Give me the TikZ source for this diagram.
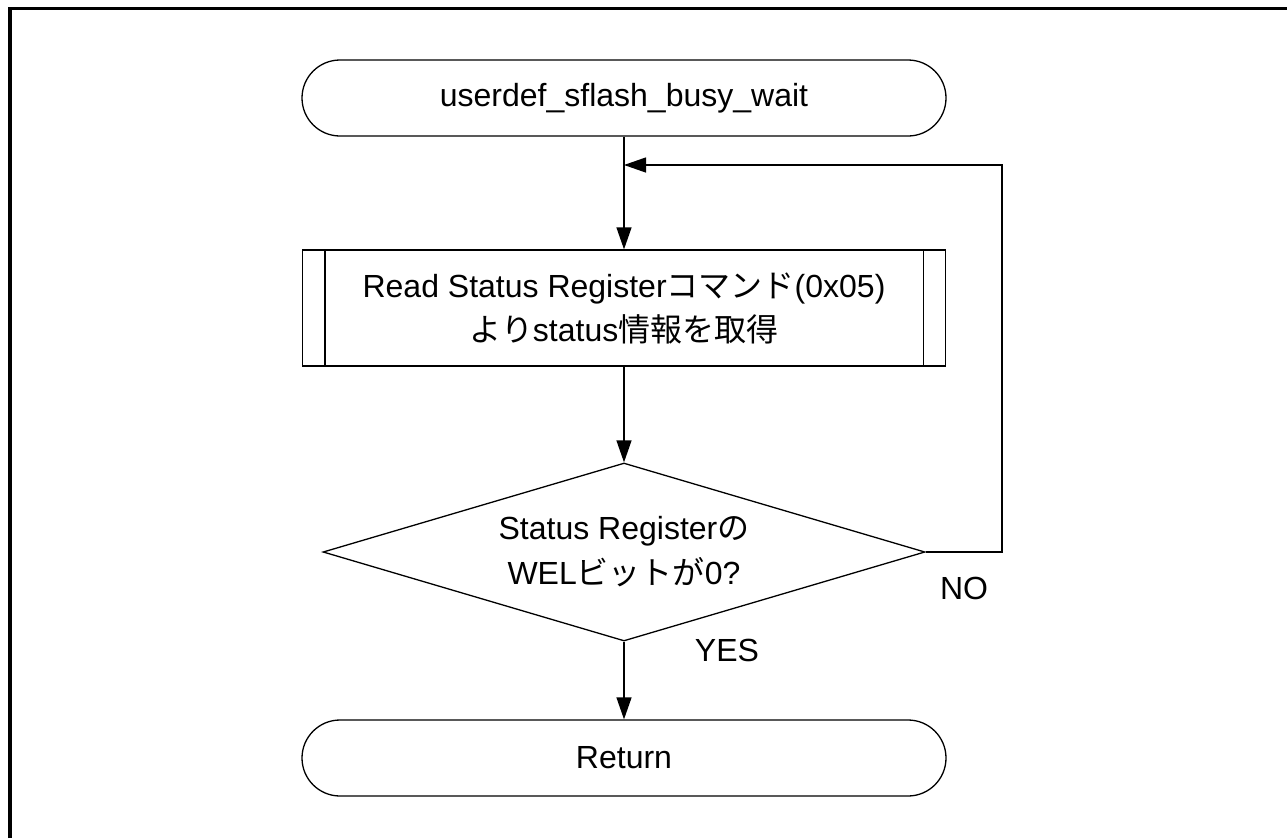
\documentclass[tikz,border=0pt]{standalone}
\usepackage{fontspec}
\setmainfont{Liberation Sans}
\newfontfamily\jp{Noto Sans CJK JP}
\usetikzlibrary{shapes.geometric,arrows.meta,positioning}
\tikzset{
  base/.style={draw=black,line width=1.3pt,inner sep=0pt,align=center,
    font=\fontsize{32}{44}\selectfont},
  term/.style={base,rectangle,rounded corners=38pt,minimum width=644pt,minimum height=76pt},
  proc/.style={base,rectangle,minimum width=643pt,minimum height=116pt},
  dec/.style={base,diamond,aspect=3.37,minimum width=602pt,minimum height=178pt},
  arr/.style={line width=1.3pt,-{Triangle[length=22pt,width=15pt]}},
  lbl/.style={font=\fontsize{32}{36}\selectfont,inner sep=0pt},
  frame/.style={line width=3.5pt}
}
\begin{document}
\begin{tikzpicture}[x=1pt,y=-1pt]
\useasboundingbox (0,0) rectangle (1287,838);
\draw[frame] (10,838) -- (10,8.5) -- (1287,8.5);
\node[term] (start) at (624,98) {userdef\_sflash\_busy\_wait};
\node[proc] (read) at (624,308) {Read Status Register{\jp コマンド}(0x05)\\{\jp より}status{\jp 情報を取得}};
\draw[line width=1.3pt] ([xshift=23pt]read.north west) -- ([xshift=23pt]read.south west);
\draw[line width=1.3pt] ([xshift=-23pt]read.north east) -- ([xshift=-23pt]read.south east);
\node[dec] (check) at (624,552) {};
\node[lbl,align=center,font=\fontsize{32}{45}\selectfont] (checktxt) at (624,552) {Status Register{\jp の}\\WEL{\jp ビットが}0?};
\node[term] (ret) at (624,758) {Return};
\coordinate (join) at (624,165);
\coordinate (loopR) at (1002,552);
\node[lbl] (no) at (964,588) {NO};
\node[lbl] (yes) at (727,650) {YES};
\draw[arr] (start.south) -- (read.north);
\draw[arr] (read.south) -- (check.north);
\draw[arr] (check.south) -- (ret.north);
\draw[arr] (check.east) -- (loopR) |- (join);
\end{tikzpicture}
\end{document}
